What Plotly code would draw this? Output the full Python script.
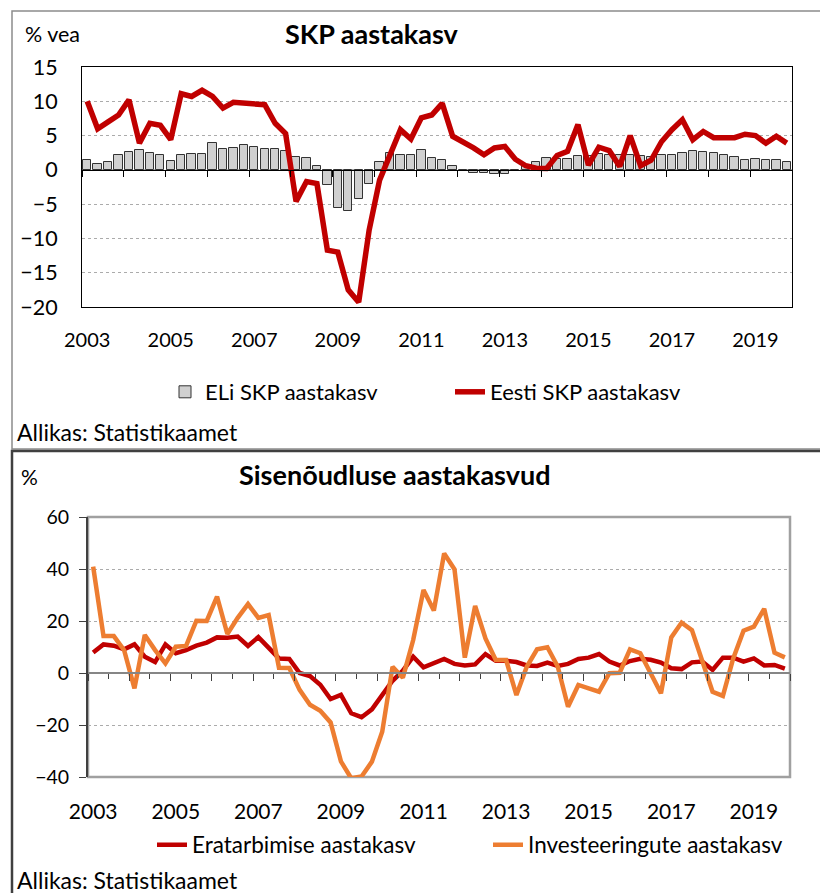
import plotly.graph_objects as go

# ---------------- data ----------------
years = list(range(2003, 2020))
quarters = [f"{y}Q{q}" for y in years for q in range(1, 5)]

eu_gdp = [1.5, 0.9, 1.2, 2.1, 2.6, 2.9, 2.4, 2.1, 1.3, 2.2,
          2.3, 2.3, 3.9, 3.0, 3.2, 3.6, 3.4, 3.0, 3.1, 2.7,
          1.85, 1.7, 0.6, -2.2, -5.6, -5.95, -4.2, -2.0, 1.1, 2.4,
          2.2, 2.1, 2.9, 1.75, 1.5, 0.6, -0.15, -0.5, -0.5, -0.6,
          -0.6, 0.05, 0.5, 1.1, 1.8, 1.6, 1.65, 2.0, 2.0, 2.3,
          2.15, 2.2, 2.1, 2.0, 1.85, 2.1, 2.2, 2.5, 2.8, 2.6,
          2.4, 2.2, 1.85, 1.5, 1.65, 1.4, 1.4, 1.1]

ee_gdp = [10.0, 6.0, 7.0, 8.0, 10.2, 3.9, 6.8, 6.5, 4.4, 11.1,
          10.7, 11.6, 10.7, 9.0, 9.85, 9.75, 9.7, 9.5, 6.8, 5.3,
          -4.6, -1.7, -2.0, -11.7, -12.0, -17.5, -19.3, -8.8, -1.5, 2.2,
          5.85, 4.5, 7.6, 8.0, 9.7, 4.9, 4.15, 3.2, 2.2, 3.2,
          3.4, 1.55, 0.6, 0.25, 0.2, 2.1, 2.7, 6.6, 0.7, 3.3,
          2.8, 0.5, 5.0, 0.6, 1.4, 4.1, 5.85, 7.3, 4.4, 5.6,
          4.7, 4.6, 4.7, 5.2, 5.0, 3.9, 4.9, 3.9]

consumption = [7.9, 11.0, 10.5, 9.1, 11.0, 6.3, 4.2, 11.0, 7.6, 8.8,
               10.5, 11.7, 13.7, 13.6, 14.0, 10.4, 13.8, 9.7, 5.6, 5.4,
               0.0, -1.2, -4.5, -10.0, -8.4, -15.5, -17.0, -14.0, -8.8, -3.0,
               0.9, 6.3, 2.2, 3.7, 5.4, 3.5, 2.9, 3.3, 7.3, 4.7,
               4.7, 4.2, 2.9, 2.7, 4.0, 2.7, 3.5, 5.4, 5.9, 7.3,
               4.4, 2.9, 4.6, 5.5, 5.1, 4.0, 1.8, 1.5, 4.1, 4.4,
               1.2, 5.9, 5.9, 4.4, 5.6, 2.9, 3.1, 1.7]

investment = [40.9, 14.2, 14.2, 8.8, -5.9, 14.6, 8.8, 3.7, 10.1, 10.4,
              20.1, 20.0, 29.4, 15.0, 21.2, 26.5, 21.2, 22.3, 2.0, 1.9,
              -6.5, -12.2, -14.5, -19.0, -34.0, -40.5, -39.8, -34.1, -22.6, 2.4,
              -1.8, 12.7, 31.9, 24.0, 46.0, 39.9, 5.9, 25.8, 13.3, 5.0,
              5.0, -8.5, 2.4, 9.1, 9.9, 2.5, -13.0, -4.6, -5.9, -7.2,
              -0.1, 0.1, 9.1, 7.6, -0.1, -7.8, 13.7, 19.4, 16.5, 4.4,
              -7.2, -8.8, 5.6, 16.3, 17.8, 24.7, 7.8, 6.0]

label_years = list(range(2003, 2020, 2))
label_text = [str(y) for y in label_years]

top_title = "SKP aastakasv"
bot_title = "Sisenõudluse aastakasvud"
top_unit = "% vea"
bot_unit = "%"
source = "Allikas: Statistikaamet"
names_top = ["ELi SKP aastakasv", "Eesti SKP aastakasv"]
names_bot = ["Eratarbimise aastakasv", "Investeeringute aastakasv"]


def qpos(label):
    y, q = label.split("Q")
    return int(y) + (int(q) - 0.5) / 4


x = [qpos(q) for q in quarters]
label_pos = [qpos(f"{y}Q1") for y in label_years]

# ---------------- layout helpers ----------------
W, H = 820, 893
FONT = "Lato, 'Open Sans', sans-serif"


def px(v):
    return v / W


def py(v):
    return 1 - v / H


top_xd = [px(82), px(792)]
top_yd = [py(307), py(67)]
bot_xd = [px(88), px(790)]
bot_yd = [py(777), py(517)]
top_range = [-20, 15]
bot_range = [-40, 60]
top_zero = top_yd[0] + (0 - top_range[0]) / (top_range[1] - top_range[0]) * (top_yd[1] - top_yd[0])
bot_zero = bot_yd[0] + (0 - bot_range[0]) / (bot_range[1] - bot_range[0]) * (bot_yd[1] - bot_yd[0])

RED = "#C00000"
ORANGE = "#ED7D31"
GRID = "#ABABAB"

fig = go.Figure()

fig.add_trace(go.Bar(x=x, y=eu_gdp, name=names_top[0], width=0.2,
                     marker=dict(color="#D0D0D0", line=dict(color="#333333", width=1)),
                     xaxis="x", yaxis="y", legend="legend"))
fig.add_trace(go.Scatter(x=x, y=ee_gdp, name=names_top[1], mode="lines",
                         line=dict(color=RED, width=5.5),
                         xaxis="x", yaxis="y", legend="legend"))
fig.add_trace(go.Scatter(x=x, y=consumption, name=names_bot[0], mode="lines",
                         line=dict(color=RED, width=4.5),
                         xaxis="x2", yaxis="y2", legend="legend2"))
fig.add_trace(go.Scatter(x=x, y=investment, name=names_bot[1], mode="lines",
                         line=dict(color=ORANGE, width=4.5),
                         xaxis="x2", yaxis="y2", legend="legend2"))
# empty traces so that the zero-line axes get drawn
fig.add_trace(go.Scatter(x=[], y=[], xaxis="x3", yaxis="y", showlegend=False, hoverinfo="skip"))
fig.add_trace(go.Scatter(x=[], y=[], xaxis="x4", yaxis="y2", showlegend=False, hoverinfo="skip"))

tickfont = dict(family=FONT, size=20, color="#000000")

fig.update_layout(
    width=W, height=H,
    margin=dict(l=0, r=0, t=0, b=0, pad=0, autoexpand=False),
    paper_bgcolor="white", plot_bgcolor="white",
    font=dict(family=FONT, color="#000000"),
    bargap=0,
    xaxis=dict(domain=top_xd, range=[2003, 2020], anchor="y", automargin=False,
               tickmode="array", tickvals=label_pos, ticktext=label_text,
               ticks="outside", ticklen=15, tickcolor="rgba(0,0,0,0)",
               showgrid=False, zeroline=False, showline=True, mirror=True,
               linecolor="#000000", linewidth=1, tickfont=tickfont),
    yaxis=dict(domain=top_yd, range=top_range, anchor="x", automargin=False,
               tickmode="array", tickvals=[-20, -15, -10, -5, 0, 5, 10, 15],
               ticks="outside", ticklen=19, tickcolor="rgba(0,0,0,0)",
               showgrid=True, gridcolor=GRID, griddash="dot", gridwidth=1,
               zeroline=False, showline=True, mirror=True,
               linecolor="#000000", linewidth=1, tickfont=dict(tickfont, size=21.5)),
    xaxis3=dict(overlaying="x", anchor="free", position=top_zero, automargin=False,
                range=[2003, 2020], tickmode="array", tickvals=years + [2020],
                ticks="outside", ticklen=6, tickcolor="#000000", tickwidth=1,
                showticklabels=False, showgrid=False, zeroline=False,
                showline=True, linecolor="#000000", linewidth=1),
    xaxis2=dict(domain=bot_xd, range=[2003, 2020], anchor="y2", automargin=False,
                tickmode="array", tickvals=label_pos, ticktext=label_text,
                ticks="outside", ticklen=16, tickcolor="rgba(0,0,0,0)",
                showgrid=False, zeroline=False, showline=False,
                tickfont=dict(tickfont, size=21)),
    yaxis2=dict(domain=bot_yd, range=bot_range, anchor="x2", automargin=False,
                tickmode="array", tickvals=[-40, -20, 0, 20, 40, 60],
                ticks="outside", ticklen=7, tickcolor="#404040", tickwidth=1,
                ticklabelstandoff=6,
                showgrid=True, gridcolor=GRID, griddash="dot", gridwidth=1,
                zeroline=False, showline=True, linecolor="#404040", linewidth=2,
                tickfont=dict(tickfont, size=19.5)),
    xaxis4=dict(overlaying="x2", anchor="free", position=bot_zero, automargin=False,
                range=[2003, 2020], tickmode="array", tickvals=years + [2020],
                ticks="outside", ticklen=7, tickcolor="#404040", tickwidth=1,
                minor=dict(tickmode="array", tickvals=[yy + 0.5 for yy in years],
                           ticks="outside", ticklen=5, tickcolor="#404040"),
                showticklabels=False, showgrid=False, zeroline=False,
                showline=True, linecolor="#868686", linewidth=2),
    legend=dict(orientation="h", x=px(165), xanchor="left", y=py(392), yanchor="middle",
                font=dict(family=FONT, size=22), bgcolor="rgba(0,0,0,0)",
                entrywidth=240, traceorder="normal"),
    legend2=dict(orientation="h", x=px(152), xanchor="left", y=py(845), yanchor="middle",
                 font=dict(family=FONT, size=22.5), bgcolor="rgba(0,0,0,0)",
                 entrywidth=291, traceorder="normal"),
    showlegend=True,
)

# panel frames
fig.add_shape(type="rect", xref="paper", yref="paper",
              x0=px(12), x1=px(830), y0=py(449), y1=py(11),
              line=dict(color="#8C8C8C", width=1.5), layer="below")
fig.add_shape(type="rect", xref="paper", yref="paper",
              x0=px(12), x1=px(830), y0=py(905), y1=py(451),
              line=dict(color="#404040", width=2.5), layer="below")
# bottom plot frame (grey)
fig.add_shape(type="rect", xref="paper", yref="paper",
              x0=bot_xd[0], x1=bot_xd[1], y0=bot_yd[0], y1=bot_yd[1],
              line=dict(color="#A0A0A0", width=2.5), layer="below")

ann = [
    dict(text=top_unit, x=px(23), y=py(34), xanchor="left", size=21.5, bold=False),
    dict(text=top_title, x=px(372), y=py(34), xanchor="center", size=27, bold=True),
    dict(text=source, x=px(15), y=py(432), xanchor="left", size=23, bold=False),
    dict(text=bot_unit, x=px(19), y=py(476), xanchor="left", size=21, bold=False),
    dict(text=bot_title, x=px(395), y=py(474), xanchor="center", size=27, bold=True),
    dict(text=source, x=px(15), y=py(880), xanchor="left", size=23, bold=False),
]
for a in ann:
    t = f"<b>{a['text']}</b>" if a["bold"] else a["text"]
    fig.add_annotation(text=t, x=a["x"], y=a["y"], xref="paper", yref="paper",
                       xanchor=a["xanchor"], yanchor="middle", showarrow=False,
                       font=dict(family=FONT, size=a["size"], color="#000000"))

fig.write_html("out.html", config={"displayModeBar": False},
               post_script="document.body.style.margin='0';")
